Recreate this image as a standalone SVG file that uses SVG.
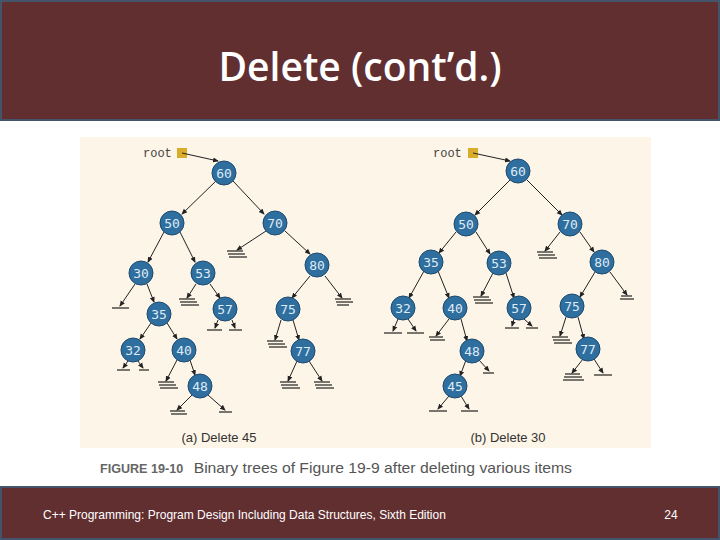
<svg xmlns="http://www.w3.org/2000/svg" width="720" height="540" viewBox="0 0 720 540">
<defs>
<marker id="ah" markerWidth="6" markerHeight="6" refX="5" refY="3" orient="auto" markerUnits="userSpaceOnUse"><path d="M0,0.5 L6,3 L0,5.5 z" fill="#222"/></marker>
</defs>
<style>
.n circle{fill:#2f6f9f;stroke:#1d4a6e;stroke-width:1}
.n text{fill:#dfeaf5;font-family:"DejaVu Sans Mono",monospace;font-size:13px;text-anchor:middle;dominant-baseline:central}
.e line{stroke:#222;stroke-width:1;marker-end:url(#ah)}
.g line{stroke:#222;stroke-width:1.2}
.lbl{font-family:"Liberation Sans",Arial,sans-serif;font-size:13px;fill:#333}
.rt{font-family:"Liberation Mono",monospace;font-size:12px;fill:#444}
</style>
<rect width="720" height="540" fill="#fff"/>
<rect x="1" y="1" width="718" height="119" fill="#622f31" stroke="#44546a" stroke-width="2"/>
<text x="360" y="81" font-family="Open Sans, sans-serif" font-size="39" font-weight="600" fill="#fff" text-anchor="middle">Delete (cont’d.)</text>
<rect x="1" y="487" width="718" height="52" fill="#622f31" stroke="#44546a" stroke-width="2"/>
<text x="43" y="519" font-family="Liberation Sans, Arial, sans-serif" font-size="12" fill="#fff">C++ Programming: Program Design Including Data Structures, Sixth Edition</text>
<text x="671" y="519" font-family="Liberation Sans, Arial, sans-serif" font-size="12" fill="#fff" text-anchor="middle">24</text>
<rect x="80" y="137" width="571" height="311" fill="#fdf5e7"/>
<text x="100" y="473" font-family="Liberation Sans, Arial, sans-serif" font-size="15" fill="#555" textLength="472" lengthAdjust="spacingAndGlyphs"><tspan font-weight="bold" font-size="12" fill="#666">FIGURE 19-10</tspan><tspan dx="10">Binary trees of Figure 19-9 after deleting various items</tspan></text>
<text class="lbl" x="219" y="442" text-anchor="middle">(a) Delete 45</text>
<text class="lbl" x="508" y="442" text-anchor="middle">(b) Delete 30</text>
<text class="rt" x="143" y="157">root</text>
<rect x="177" y="148" width="10" height="10" fill="#d9ad2a"/>
<text class="rt" x="433" y="157">root</text>
<rect x="468" y="148" width="10" height="10" fill="#d9ad2a"/>
<g id="connectors">
<g class="e">
<line x1="182" y1="153" x2="218" y2="161"/>
<line x1="216" y1="181" x2="182" y2="214"/>
<line x1="233" y1="181" x2="264" y2="214"/>
<line x1="164" y1="232" x2="148" y2="262"/>
<line x1="180" y1="232" x2="195" y2="262"/>
<line x1="266" y1="231" x2="237" y2="250"/>
<line x1="285" y1="231" x2="310" y2="254"/>
<line x1="135" y1="284" x2="120" y2="306"/>
<line x1="147" y1="284" x2="154" y2="302"/>
<line x1="196" y1="284" x2="187" y2="298"/>
<line x1="210" y1="284" x2="220" y2="298"/>
<line x1="218" y1="320" x2="215" y2="328"/>
<line x1="232" y1="320" x2="235" y2="328"/>
<line x1="310" y1="276" x2="292" y2="298"/>
<line x1="325" y1="276" x2="342" y2="298"/>
<line x1="281" y1="320" x2="275" y2="340"/>
<line x1="293" y1="320" x2="299" y2="340"/>
<line x1="151" y1="323" x2="140" y2="339"/>
<line x1="167" y1="323" x2="177" y2="339"/>
<line x1="128" y1="361" x2="123" y2="368"/>
<line x1="138" y1="361" x2="143" y2="368"/>
<line x1="177" y1="360" x2="166" y2="381"/>
<line x1="190" y1="360" x2="195" y2="375"/>
<line x1="297" y1="361" x2="288" y2="381"/>
<line x1="309" y1="361" x2="322" y2="381"/>
<line x1="192" y1="395" x2="177" y2="410"/>
<line x1="208" y1="395" x2="225" y2="410"/>

<line x1="473" y1="153" x2="510" y2="161"/>
<line x1="510" y1="180" x2="475" y2="215"/>
<line x1="527" y1="180" x2="562" y2="215"/>
<line x1="456" y1="232" x2="439" y2="253"/>
<line x1="476" y1="232" x2="490" y2="254"/>
<line x1="560" y1="232" x2="545" y2="251"/>
<line x1="580" y1="232" x2="594" y2="252"/>
<line x1="424" y1="271" x2="409" y2="298"/>
<line x1="438" y1="271" x2="449" y2="298"/>
<line x1="493" y1="273" x2="481" y2="296"/>
<line x1="506" y1="273" x2="514" y2="298"/>
<line x1="595" y1="272" x2="580" y2="297"/>
<line x1="610" y1="272" x2="627" y2="295"/>
<line x1="398" y1="319" x2="393" y2="331"/>
<line x1="408" y1="319" x2="416" y2="331"/>
<line x1="449" y1="319" x2="436" y2="336"/>
<line x1="461" y1="319" x2="467" y2="341"/>
<line x1="514" y1="319" x2="512" y2="326"/>
<line x1="524" y1="319" x2="532" y2="326"/>
<line x1="566" y1="317" x2="560" y2="336"/>
<line x1="578" y1="317" x2="584" y2="339"/>
<line x1="466" y1="360" x2="460" y2="376"/>
<line x1="479" y1="360" x2="489" y2="371"/>
<line x1="583" y1="359" x2="572" y2="373"/>
<line x1="594" y1="359" x2="603" y2="373"/>
<line x1="449" y1="396" x2="438" y2="409"/>
<line x1="461" y1="396" x2="469" y2="409"/>
</g>
<g class="g">
<line x1="227" y1="251" x2="243" y2="251"/><line x1="228" y1="254" x2="245" y2="254"/><line x1="229" y1="257" x2="247" y2="257"/>
<line x1="112" y1="308" x2="129" y2="308"/>
<line x1="179" y1="299" x2="195" y2="299"/><line x1="180" y1="302" x2="197" y2="302"/><line x1="181" y1="305" x2="199" y2="305"/>
<line x1="207" y1="330" x2="222" y2="330"/><line x1="229" y1="330" x2="242" y2="330"/>
<line x1="335" y1="299" x2="351" y2="299"/><line x1="336" y1="302" x2="353" y2="302"/><line x1="337" y1="305" x2="349" y2="305"/>
<line x1="267" y1="341" x2="283" y2="341"/><line x1="268" y1="344" x2="285" y2="344"/><line x1="269" y1="347" x2="287" y2="347"/>
<line x1="117" y1="370" x2="130" y2="370"/><line x1="139" y1="370" x2="149" y2="370"/>
<line x1="158" y1="382" x2="174" y2="382"/><line x1="159" y1="385" x2="176" y2="385"/><line x1="160" y1="388" x2="178" y2="388"/>
<line x1="280" y1="382" x2="296" y2="382"/><line x1="281" y1="385" x2="298" y2="385"/><line x1="282" y1="388" x2="300" y2="388"/>
<line x1="314" y1="382" x2="330" y2="382"/><line x1="315" y1="385" x2="332" y2="385"/><line x1="316" y1="388" x2="334" y2="388"/>
<line x1="170" y1="411" x2="185" y2="411"/><line x1="171" y1="414" x2="187" y2="414"/>
<line x1="219" y1="412" x2="232" y2="412"/>
<line x1="537" y1="252" x2="553" y2="252"/><line x1="538" y1="255" x2="555" y2="255"/><line x1="539" y1="258" x2="557" y2="258"/>
<line x1="473" y1="297" x2="489" y2="297"/><line x1="474" y1="300" x2="491" y2="300"/><line x1="475" y1="303" x2="493" y2="303"/>
<line x1="621" y1="296" x2="632" y2="296"/><line x1="620" y1="299" x2="634" y2="299"/>
<line x1="384" y1="333" x2="402" y2="333"/><line x1="407" y1="333" x2="424" y2="333"/>
<line x1="429" y1="337" x2="443" y2="337"/><line x1="430" y1="340" x2="445" y2="340"/>
<line x1="505" y1="328" x2="519" y2="328"/><line x1="526" y1="328" x2="538" y2="328"/>
<line x1="552" y1="337" x2="568" y2="337"/><line x1="553" y1="340" x2="570" y2="340"/><line x1="554" y1="343" x2="572" y2="343"/>
<line x1="483" y1="373" x2="494" y2="373"/>
<line x1="565" y1="374" x2="580" y2="374"/><line x1="564" y1="377" x2="582" y2="377"/><line x1="563" y1="380" x2="584" y2="380"/>
<line x1="594" y1="375" x2="612" y2="375"/>
<line x1="429" y1="411" x2="447" y2="411"/><line x1="461" y1="411" x2="478" y2="411"/>
</g>
</g>
<g id="n60a" class="n"><circle cx="224" cy="173" r="12"/><text x="224" y="173">60</text></g>
<g id="n50a" class="n"><circle cx="172" cy="223" r="12"/><text x="172" y="223">50</text></g>
<g id="n70a" class="n"><circle cx="275" cy="223" r="12"/><text x="275" y="223">70</text></g>
<g id="n30a" class="n"><circle cx="141" cy="273" r="12"/><text x="141" y="273">30</text></g>
<g id="n53a" class="n"><circle cx="203" cy="273" r="12"/><text x="203" y="273">53</text></g>
<g id="n80a" class="n"><circle cx="317" cy="265" r="12"/><text x="317" y="265">80</text></g>
<g id="n35a" class="n"><circle cx="159" cy="314" r="12"/><text x="159" y="314">35</text></g>
<g id="n57a" class="n"><circle cx="225" cy="309" r="12"/><text x="225" y="309">57</text></g>
<g id="n75a" class="n"><circle cx="288" cy="309" r="12"/><text x="288" y="309">75</text></g>
<g id="n32a" class="n"><circle cx="133" cy="350" r="12"/><text x="133" y="350">32</text></g>
<g id="n40a" class="n"><circle cx="184" cy="350" r="12"/><text x="184" y="350">40</text></g>
<g id="n77a" class="n"><circle cx="303" cy="351" r="12"/><text x="303" y="351">77</text></g>
<g id="n48a" class="n"><circle cx="200" cy="386" r="12"/><text x="200" y="386">48</text></g>
<g id="n60b" class="n"><circle cx="518" cy="171" r="12"/><text x="518" y="171">60</text></g>
<g id="n50b" class="n"><circle cx="466" cy="224" r="12"/><text x="466" y="224">50</text></g>
<g id="n70b" class="n"><circle cx="570" cy="224" r="12"/><text x="570" y="224">70</text></g>
<g id="n35b" class="n"><circle cx="431" cy="262" r="12"/><text x="431" y="262">35</text></g>
<g id="n53b" class="n"><circle cx="499" cy="263" r="12"/><text x="499" y="263">53</text></g>
<g id="n80b" class="n"><circle cx="602" cy="262" r="12"/><text x="602" y="262">80</text></g>
<g id="n32b" class="n"><circle cx="403" cy="308" r="12"/><text x="403" y="308">32</text></g>
<g id="n40b" class="n"><circle cx="455" cy="308" r="12"/><text x="455" y="308">40</text></g>
<g id="n57b" class="n"><circle cx="519" cy="308" r="12"/><text x="519" y="308">57</text></g>
<g id="n75b" class="n"><circle cx="572" cy="306" r="12"/><text x="572" y="306">75</text></g>
<g id="n48b" class="n"><circle cx="472" cy="351" r="12"/><text x="472" y="351">48</text></g>
<g id="n77b" class="n"><circle cx="588" cy="349" r="12"/><text x="588" y="349">77</text></g>
<g id="n45b" class="n"><circle cx="455" cy="386" r="12"/><text x="455" y="386">45</text></g>
</svg>
